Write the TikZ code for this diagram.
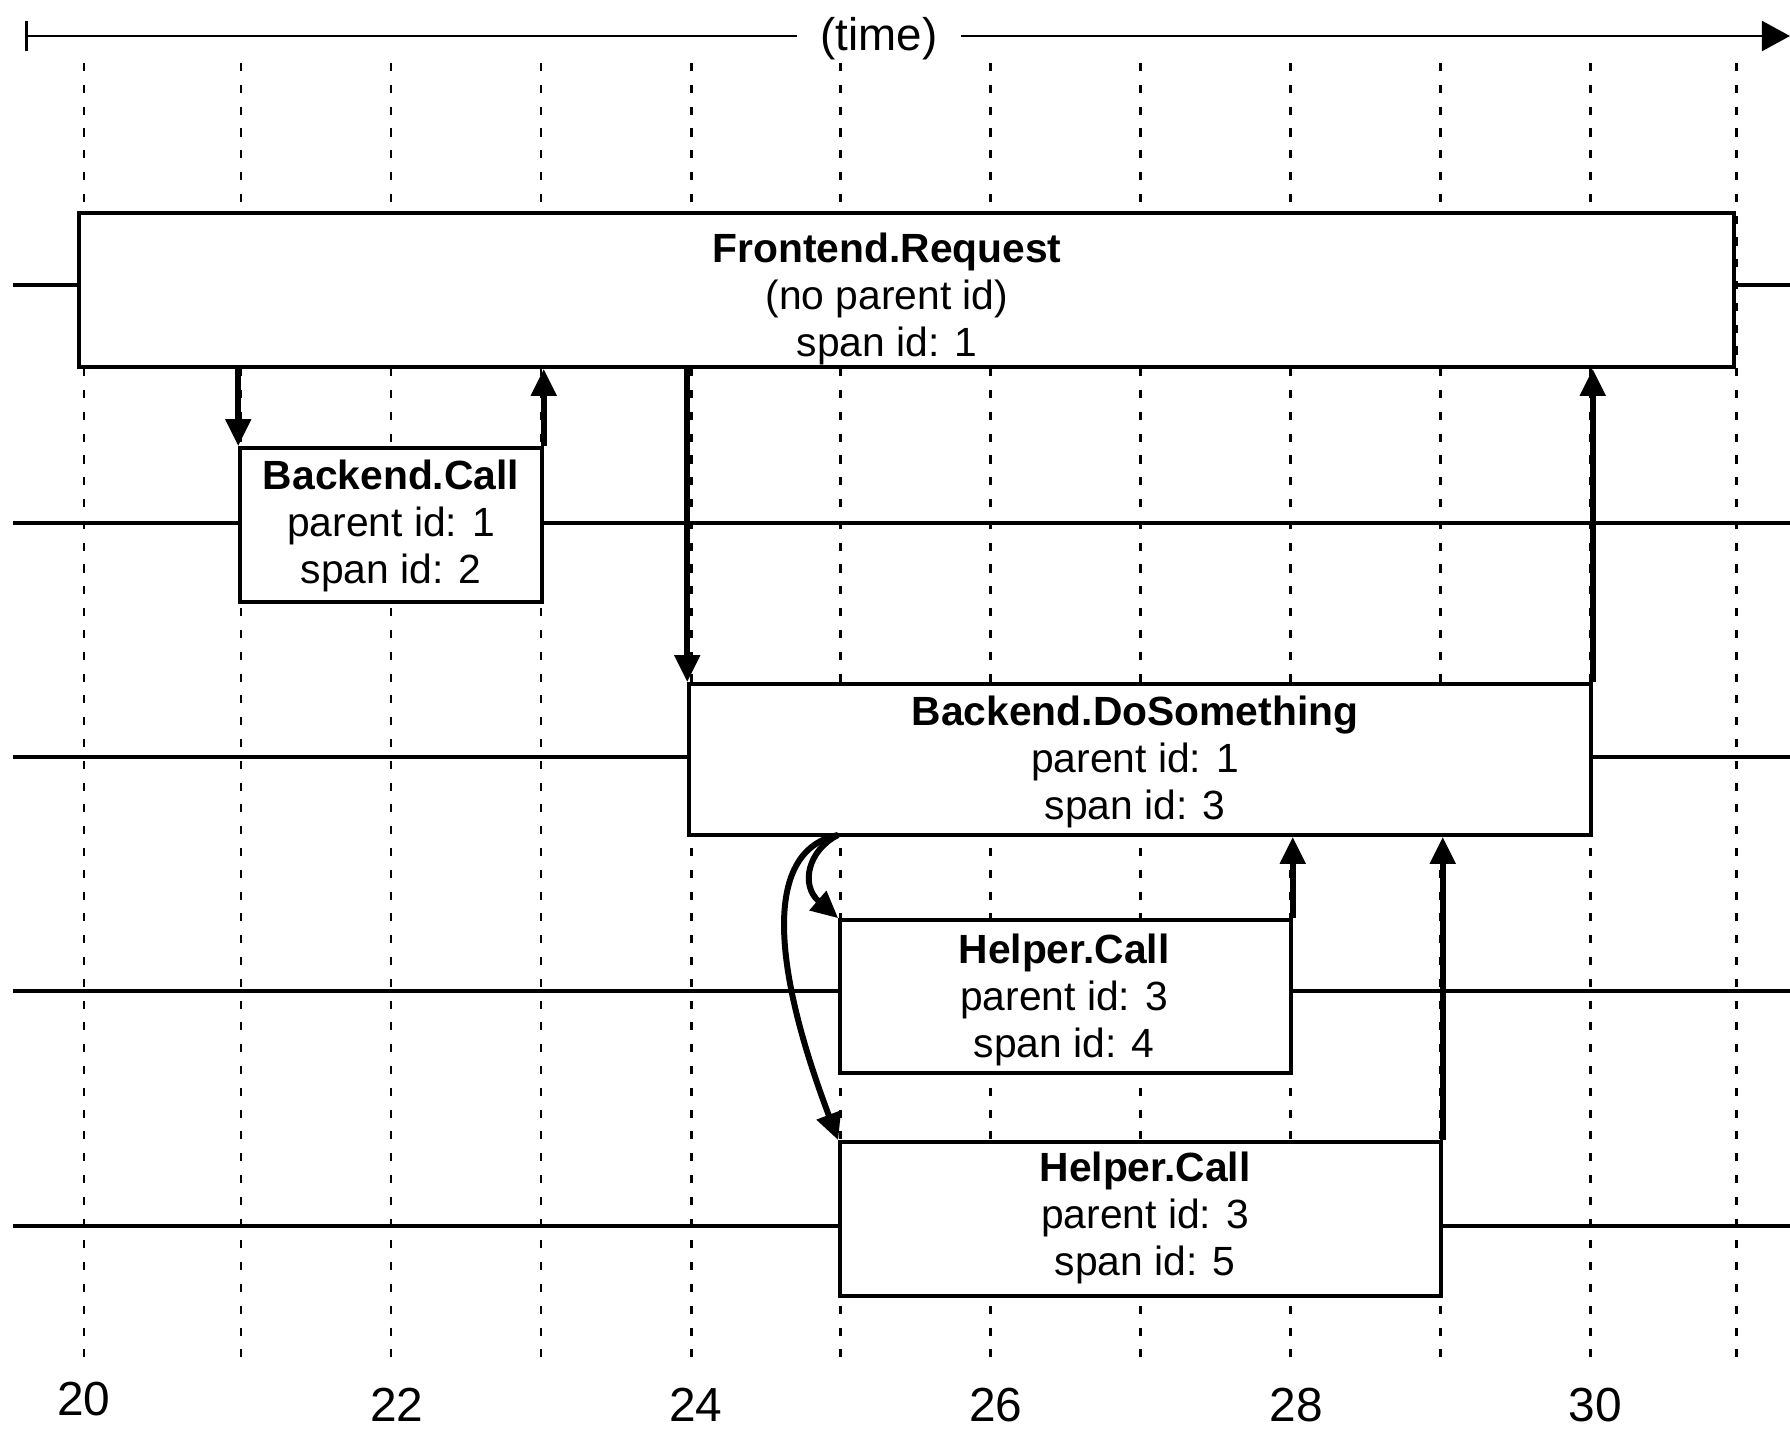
\documentclass[tikz,border=0pt]{standalone}
\usepackage{fontspec}
\setmainfont{Liberation Sans}
\usetikzlibrary{arrows.meta,fit}
\begin{document}
\begin{tikzpicture}[x=0.01cm,y=-0.01cm,
  gridline/.style={line width=0.85pt, dash pattern=on 2.3pt off 3.9pt},
  lane/.style={line width=1pt},
  spanbox/.style={draw, line width=1pt, fill=white, inner sep=0pt},
  spantext/.style={align=center, font=\fontsize{11.6pt}{13.4pt}\selectfont, inner sep=0pt},
  call/.style={line width=1.7pt, -{Triangle[length=7.7pt,width=7pt]}},
  axisline/.style={line width=0.8pt},
  ticklabel/.style={font=\fontsize{13.6pt}{15pt}\selectfont, inner sep=0pt},
]
\useasboundingbox (0,0) rectangle (1790,1429);

% time axis
\coordinate (t0) at (25,36);
\coordinate (t1) at (1790,36);
\node[font=\fontsize{13pt}{15pt}\selectfont, inner sep=6.5pt] (tl) at (879,39) {(time)};
\draw[axisline, {Bar[width=8.8pt]}-] (t0) -- (tl.west |- t0);
\draw[axisline, -{Triangle[length=8pt,width=8.5pt]}] (tl.east |- t0) -- (t1);

% vertical dotted grid
\foreach \x in {84,241,391,541,691,840,990,1140,1290,1440,1590,1736}
  \draw[gridline] (\x,63) -- (\x,1364);

% lanes
\draw[lane] (13,285) -- (1790,285);
\draw[lane] (13,523) -- (1790,523);
\draw[lane] (13,757) -- (1790,757);
\draw[lane] (13,991) -- (1790,991);
\draw[lane] (13,1226) -- (1790,1226);

% span boxes
\node[spanbox, fit={(79,213) (1734,367)}] (fr) {};
\node[spanbox, fit={(240,448) (542,602)}] (bc) {};
\node[spanbox, fit={(689,684) (1591,835)}] (ds) {};
\node[spanbox, fit={(840,920) (1291,1073)}] (h1) {};
\node[spanbox, fit={(840,1142) (1441,1296)}] (h2) {};

% texts
\node[spantext] (frt) at (887,299) {\textbf{Frontend.Request}\\(no parent id)\\span id: 1};
\node[spantext] (bct) at (391,526) {\textbf{Backend.Call}\\parent id: 1\\span id: 2};
\node[spantext] (dst) at (1135,762) {\textbf{Backend.DoSomething}\\parent id: 1\\span id: 3};
\node[spantext] (h1t) at (1064,1000) {\textbf{Helper.Call}\\parent id: 3\\span id: 4};
\node[spantext] (h2t) at (1145,1218) {\textbf{Helper.Call}\\parent id: 3\\span id: 5};

% calls
\draw[call] (fr.south -| bc.north west) -- (bc.north west);
\draw[call] (bc.north east) -- (bc.north east |- fr.south);
\draw[call] (fr.south -| ds.north west) -- (ds.north west);
\draw[call] (ds.north east) -- (ds.north east |- fr.south);
\draw[call] (h1.north east) -- (h1.north east |- ds.south);
\draw[call] (h2.north east) -- (h2.north east |- ds.south);
\coordinate (cs) at (838,835);
\draw[call] (cs) .. controls (808,850) and (800,885) .. (h1.north west);
\draw[call] (cs) .. controls (765,850) and (770,960) .. (h2.north west);

% time tick labels
\node[ticklabel] (l20) at (84,1399) {20};
\node[ticklabel] (l22) at (397,1405) {22};
\node[ticklabel] (l24) at (696,1405) {24};
\node[ticklabel] (l26) at (996,1405) {26};
\node[ticklabel] (l28) at (1296,1405) {28};
\node[ticklabel] (l30) at (1595,1405) {30};
\end{tikzpicture}
\end{document}
